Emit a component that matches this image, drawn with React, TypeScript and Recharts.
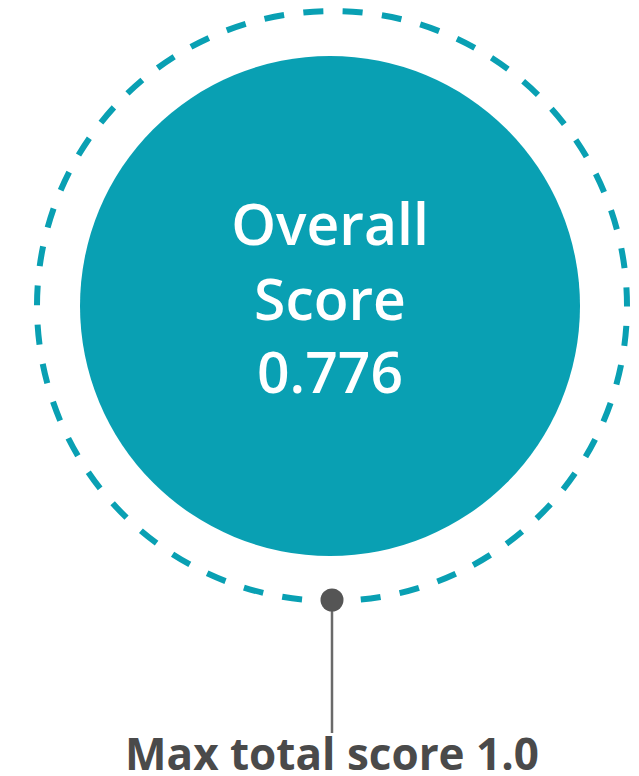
import React from 'react';
import { PieChart, Pie } from 'recharts';

const scoreTitle = ['Overall', 'Score'];
const overallScore = [0.776];
const maxScore = [1.0];
const captionPrefix = 'Max total score';

const TEAL = '#09a0b3';
const FONT = '"Open Sans", "Noto Sans", sans-serif';

const scoreData = overallScore.map((v) => ({ name: 'Overall Score', value: v }));
const maxData = maxScore.map((v) => ({ name: 'Max total score', value: v }));

function FilledDisc(props: any) {
  const { cx, cy, outerRadius } = props;
  const common = {
    x: cx,
    textAnchor: 'middle' as const,
    fill: '#ffffff',
    fontSize: 57,
    fontWeight: 600,
    fontFamily: FONT,
  };
  return (
    <g>
      <circle cx={cx} cy={cy} r={outerRadius} fill={TEAL} />
      <text {...common} y={cy - 61}>{scoreTitle[0]}</text>
      <text {...common} y={cy + 14}>{scoreTitle[1]}</text>
      <text {...common} y={cy + 87}>{overallScore[0].toFixed(3)}</text>
    </g>
  );
}

function DashedRing(props: any) {
  const { cx, cy, outerRadius } = props;
  const circumference = 2 * Math.PI * outerRadius;
  const period = circumference / 47;
  const dash = 20;
  const dotY = cy + outerRadius - 1;
  return (
    <g>
      <circle
        cx={cx}
        cy={cy}
        r={outerRadius}
        fill="none"
        stroke={TEAL}
        strokeWidth={6}
        strokeDasharray={`${dash} ${period - dash}`}
        strokeDashoffset={-dash + period}
      />
      <line x1={cx} y1={dotY} x2={cx} y2={cy + 427} stroke="#6a6a6a" strokeWidth={2.5} />
      <circle cx={cx} cy={dotY} r={11.5} fill="#555555" />
      <text x={cx} y={cy + 464} textAnchor="middle" fill="#4a4a4a" fontSize={44} fontWeight={700} fontFamily={FONT}>
        {`${captionPrefix} ${maxScore[0].toFixed(1)}`}
      </text>
    </g>
  );
}

export default function App() {
  return (
    <div style={{ position: 'absolute', left: 0, top: 0, width: 639, height: 776, background: '#ffffff' }}>
      <PieChart width={639} height={776} margin={{ top: 0, right: 0, bottom: 0, left: 0 }}>
        <Pie
          data={maxData}
          dataKey="value"
          nameKey="name"
          cx={332}
          cy={306}
          innerRadius={0}
          outerRadius={295}
          startAngle={90}
          endAngle={-270}
          stroke="none"
          isAnimationActive={false}
          shape={DashedRing}
          inactiveShape={DashedRing}
          activeShape={DashedRing}
        />
        <Pie
          data={scoreData}
          dataKey="value"
          nameKey="name"
          cx={330}
          cy={306}
          innerRadius={0}
          outerRadius={250}
          startAngle={90}
          endAngle={-270}
          stroke="none"
          isAnimationActive={false}
          shape={FilledDisc}
          inactiveShape={FilledDisc}
          activeShape={FilledDisc}
        />
      </PieChart>
    </div>
  );
}
